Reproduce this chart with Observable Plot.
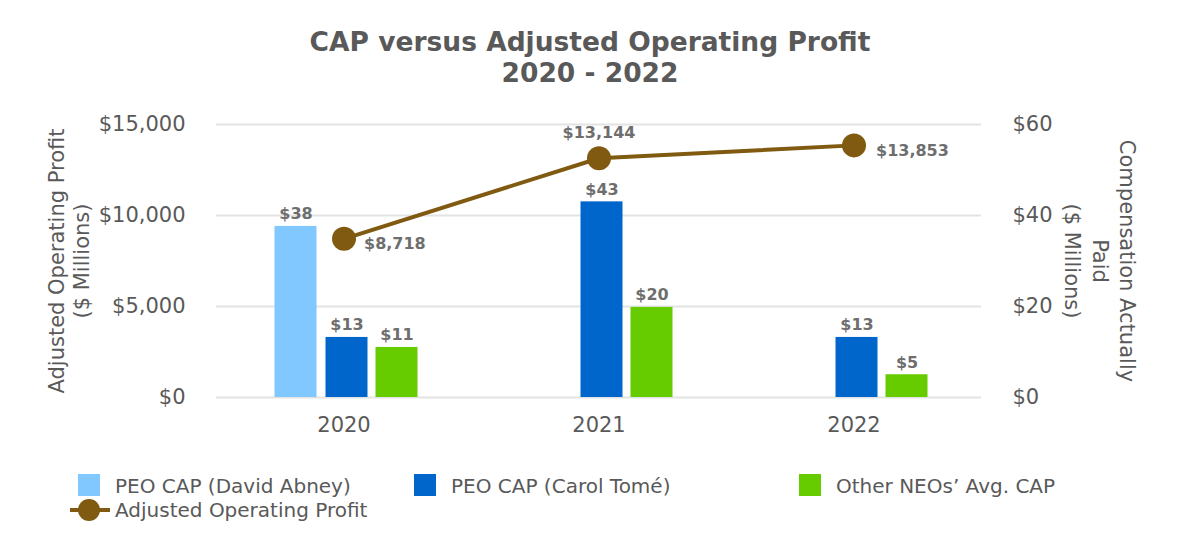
<!DOCTYPE html>
<html><head><meta charset="utf-8">
<script src="https://cdn.jsdelivr.net/npm/d3@7"></script>
<script src="https://cdn.jsdelivr.net/npm/@observablehq/plot@0.6"></script>
<style>
body{margin:0;background:#fff;font-family:"DejaVu Sans",Verdana,sans-serif;}
#wrap{position:relative;width:1180px;height:560px;overflow:hidden;}
#title{position:absolute;top:26px;left:0;width:1180px;text-align:center;font-weight:bold;font-size:26.5px;line-height:31px;color:#595959;}
#chart{position:absolute;top:95px;left:0;}
.leg{position:absolute;font-size:20px;line-height:24px;color:#595959;white-space:nowrap;}
.sw{position:absolute;width:22px;height:22px;}
</style></head>
<body><div id="wrap"><div id="title">CAP versus Adjusted Operating Profit<br>2020 - 2022</div><div id="chart"></div><div id="legend"></div></div>
<script>
const years = ["2020", "2021", "2022"];
const seriesNames = ["PEO CAP (David Abney)", "PEO CAP (Carol Tomé)", "Other NEOs’ Avg. CAP"];
const seriesColors = ["#80c8ff", "#0066cc", "#66cc00"];
const abneyCAP = [37.6, null, null];
const tomeCAP = [13.2, 43, 13.2];
const neoCAP = [11, 19.8, 5];
const opProfit = [8718, 13144, 13853];
const lineName = "Adjusted Operating Profit";
const lineColor = "#7f5a10";
const leftTicks = [0, 5000, 10000, 15000];
const rightTicks = [0, 20, 40, 60];
const leftTitle = "Adjusted Operating Profit\n($ Millions)";
const rightTitle = "Compensation Actually\nPaid\n($ Millions)";

const RATIO = 15000 / 60;
const seriesValues = [abneyCAP, tomeCAP, neoCAP];
const slotDx = [-48, 3, 53];
const grey = "#595959";
const labelGrey = "#6e6e6e";

const barMarks = [];
seriesValues.forEach((vals, i) => {
  const rows = years.map((y, j) => ({year: y, cap: vals[j]})).filter(d => d.cap != null);
  barMarks.push(Plot.barY(rows, {x: "year", y: d => d.cap * RATIO, fill: seriesColors[i], dx: slotDx[i], insetLeft: 106.5, insetRight: 106.5}));
  barMarks.push(Plot.text(rows, {x: "year", y: d => d.cap * RATIO, text: d => "$" + Math.round(d.cap), dx: slotDx[i], dy: -7, lineAnchor: "bottom", fontWeight: "bold", fontSize: 16, fill: labelGrey}));
});

const lineRows = years.map((y, j) => ({year: y, v: opProfit[j]}));
const fmt = d3.format(",");
const lbl = (yr, opts) => Plot.text(lineRows.filter(d => d.year === yr), {x: "year", y: "v", text: d => "$" + fmt(d.v), fontWeight: "bold", fontSize: 16, fill: labelGrey, ...opts});

const chart = Plot.plot({
  width: 1180,
  height: 360,
  marginLeft: 216,
  marginRight: 199,
  marginTop: 29,
  marginBottom: 58,
  style: {fontFamily: "'DejaVu Sans', Verdana, sans-serif", color: grey, background: "#fff", overflow: "visible"},
  x: {type: "band", domain: years, padding: 0},
  y: {domain: [0, 15000]},
  marks: [
    Plot.ruleY(leftTicks, {stroke: "#e3e3e3", strokeWidth: 2}),
    Plot.axisY({ticks: leftTicks, anchor: "left", tickSize: 0, tickPadding: 31, fontSize: 21, label: null, tickFormat: d => "$" + fmt(d)}),
    Plot.axisY({ticks: rightTicks.map(v => v * RATIO), anchor: "right", tickSize: 0, tickPadding: 31, fontSize: 21, label: null, tickFormat: d => "$" + (d / RATIO)}),
    Plot.axisX({tickSize: 0, tickPadding: 20, fontSize: 21, label: null}),
    ...barMarks,
    Plot.line(lineRows, {x: "year", y: "v", stroke: lineColor, strokeWidth: 4}),
    Plot.dot(lineRows, {x: "year", y: "v", r: 12, fill: lineColor, stroke: "none"}),
    lbl("2020", {dx: 20, dy: 5, textAnchor: "start"}),
    lbl("2021", {dy: -25}),
    lbl("2022", {dx: 22, dy: 5, textAnchor: "start"}),
    Plot.text([leftTitle], {text: d => d, frameAnchor: "left", textAnchor: "middle", dx: -148, rotate: -90, fontSize: 21, lineHeight: 1.2, fill: grey}),
    Plot.text([rightTitle], {text: d => d, frameAnchor: "right", textAnchor: "middle", dx: 120, rotate: 90, fontSize: 21, lineHeight: 1.3, fill: grey})
  ]
});
document.getElementById("chart").append(chart);

const legend = document.getElementById("legend");
const swX = [78, 414, 799];
seriesNames.forEach((n, i) => {
  const s = document.createElement("div");
  s.className = "sw"; s.style.left = swX[i] + "px"; s.style.top = "474px"; s.style.background = seriesColors[i];
  legend.append(s);
  const t = document.createElement("div");
  t.className = "leg"; t.style.left = (swX[i] + 37) + "px"; t.style.top = "474px"; t.textContent = n;
  legend.append(t);
});
const ls = document.createElementNS("http://www.w3.org/2000/svg", "svg");
ls.setAttribute("width", 44); ls.setAttribute("height", 26);
ls.style.position = "absolute"; ls.style.left = "68px"; ls.style.top = "497px";
ls.innerHTML = `<line x1="2" x2="42" y1="13" y2="13" stroke="${lineColor}" stroke-width="4"/><circle cx="21" cy="13" r="11" fill="${lineColor}"/>`;
legend.append(ls);
const lt = document.createElement("div");
lt.className = "leg"; lt.style.left = "115px"; lt.style.top = "498px"; lt.textContent = lineName;
legend.append(lt);
</script></body></html>
